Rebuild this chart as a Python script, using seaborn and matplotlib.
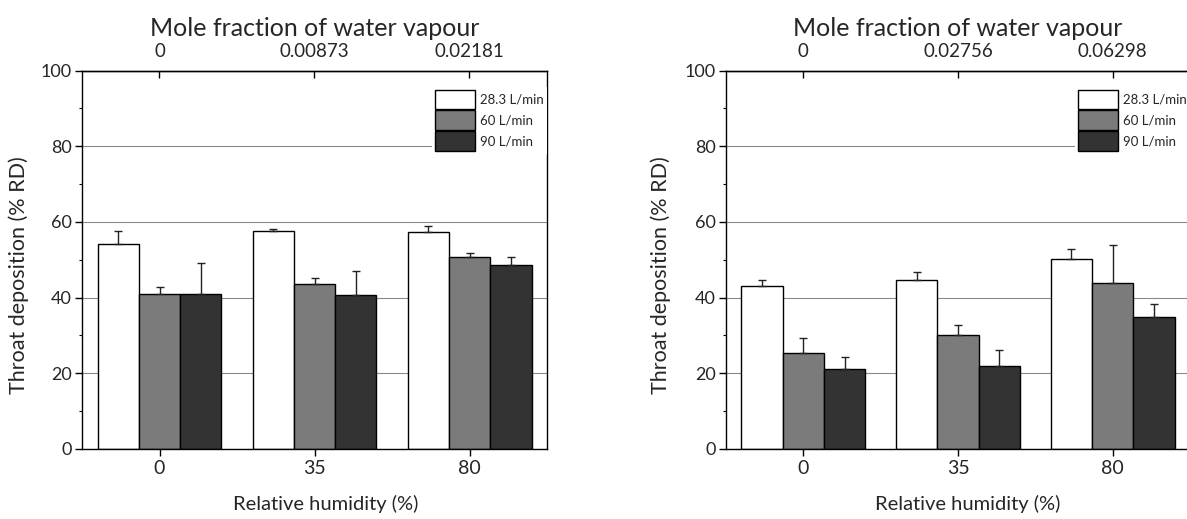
import numpy as np
import pandas as pd
import matplotlib
matplotlib.use("Agg")
import matplotlib.pyplot as plt
from matplotlib.patches import Patch
from matplotlib.ticker import MultipleLocator
import seaborn as sns

# ---------------- data ----------------
rh_levels = ["0", "35", "80"]
flows = ["28.3 L/min", "60 L/min", "90 L/min"]
mole_left = ["0", "0.00873", "0.02181"]
mole_right = ["0", "0.02756", "0.06298"]

left_283 = [54.2, 57.6, 57.4]
left_60 = [41.0, 43.6, 50.8]
left_90 = [41.0, 40.7, 48.6]
left_283_err = [3.4, 0.6, 1.6]
left_60_err = [1.8, 1.6, 1.1]
left_90_err = [8.0, 6.4, 2.2]

right_283 = [43.0, 44.5, 50.1]
right_60 = [25.3, 30.0, 43.9]
right_90 = [21.2, 21.9, 34.8]
right_283_err = [1.6, 2.3, 2.7]
right_60_err = [4.0, 2.6, 10.0]
right_90_err = [3.1, 4.1, 3.6]

colors = ["#ffffff", "#7b7b7b", "#333333"]

sns.set_theme(style="ticks")
plt.rcParams["font.family"] = ["Lato", "DejaVu Sans"]
REG = ["Lato", "DejaVu Sans"]

fig = plt.figure(figsize=(11.87, 5.19), dpi=100)
W, H = 1187.0, 519.0
ax_bottom = 1 - 448.7 / H
ax_height = 378.0 / H
axL = fig.add_axes([82 / W, ax_bottom, 465 / W, ax_height])
axR = fig.add_axes([726 / W, ax_bottom, 464 / W, ax_height])


def make_df(v1, v2, v3, e1, e2, e3):
    rows = []
    for f, vals, errs in zip(flows, [v1, v2, v3], [e1, e2, e3]):
        for rh, v, e in zip(rh_levels, vals, errs):
            rows.append({"rh": rh, "flow": f, "value": v, "err": e})
    return pd.DataFrame(rows)


def draw(ax, df, mole, xlab_x, ylab_x):
    sns.barplot(data=df, x="rh", y="value", hue="flow", order=rh_levels,
                hue_order=flows, palette=dict(zip(flows, colors)),
                edgecolor="black", linewidth=1.0, errorbar=None,
                ax=ax, legend=False, zorder=2)
    # error bars (upper only)
    for cont, f in zip(ax.containers, flows):
        sub = df[df["flow"] == f].set_index("rh").loc[rh_levels]
        xs = [b.get_x() + b.get_width() / 2 for b in cont]
        ys = [b.get_height() for b in cont]
        errs = sub["err"].values
        ax.errorbar(xs, ys, yerr=[np.zeros(len(errs)), errs], fmt="none",
                    ecolor="#222222", elinewidth=1.0, capsize=3.2,
                    capthick=1.0, zorder=3)
    ax.set_ylim(0, 100)
    ax.set_xlim(-0.5, 2.5)
    ax.yaxis.set_major_locator(MultipleLocator(20))
    ax.yaxis.set_minor_locator(MultipleLocator(10))
    ax.set_axisbelow(True)
    ax.yaxis.grid(True, which="major", color="#8a8a8a", linewidth=0.8)
    ax.xaxis.grid(False)
    for s in ax.spines.values():
        s.set_visible(True)
        s.set_color("black")
        s.set_linewidth(1.0)
    ax.tick_params(axis="y", which="major", direction="out", length=5,
                   width=1.0, pad=2.5, labelsize=13, color="black")
    ax.tick_params(axis="y", which="minor", direction="out", length=2.5,
                   width=0.8, color="black")
    ax.tick_params(axis="x", which="major", direction="out", length=5,
                   width=1.0, pad=3, labelsize=14, color="black",
                   top=False)
    ax.set_xlabel("Relative humidity (%)", fontsize=14.5, family=REG)
    ax.xaxis.set_label_coords(xlab_x, -0.123)
    ax.set_ylabel("Throat deposition (% RD)", fontsize=15.5, family=REG)
    ax.yaxis.set_label_coords(ylab_x, 0.46)

    sec = ax.secondary_xaxis("top")
    sec.set_xticks(range(len(mole)), labels=mole)
    sec.tick_params(direction="in", length=5, width=1.0, pad=8,
                    labelsize=13.5, color="black")
    sec.set_xlabel("Mole fraction of water vapour", fontsize=18, family=REG,
                   labelpad=5)
    sec.spines["top"].set_linewidth(1.0)

    handles = [Patch(facecolor=c, edgecolor="black", linewidth=1.0)
               for c in colors]
    leg = ax.legend(handles, flows, loc="upper right",
                    bbox_to_anchor=(1.0, 0.958), borderaxespad=0,
                    frameon=True, framealpha=1, facecolor="white",
                    edgecolor="none", fancybox=False,
                    handlelength=3.05, handleheight=1.9, labelspacing=0.08,
                    handletextpad=0.35, borderpad=0.25,
                    prop={"family": REG, "size": 9.5})
    leg.set_zorder(5)


draw(axL, make_df(left_283, left_60, left_90, left_283_err, left_60_err,
                  left_90_err), mole_left, 0.525, -0.114)
draw(axR, make_df(right_283, right_60, right_90, right_283_err, right_60_err,
                  right_90_err), mole_right, 0.52, -0.118)

fig.savefig("out.png", dpi=100)
